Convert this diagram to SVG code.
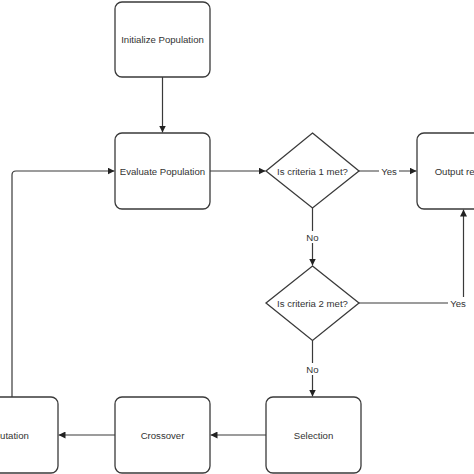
<svg xmlns="http://www.w3.org/2000/svg" width="474" height="474" viewBox="0 0 474 474">
<defs>
<style>
.box{fill:#fff;stroke:#3a3a3a;stroke-width:1.3}
.t{font-family:"Liberation Sans",Arial,sans-serif;font-size:9.6px;fill:#333;text-anchor:middle;dominant-baseline:central}
.c{fill:none;stroke:#3a3a3a;stroke-width:1.2}
.lbl{fill:#fff}
</style>
<marker id="ah" viewBox="0 0 10 10" refX="10" refY="5" markerWidth="7" markerHeight="7" markerUnits="userSpaceOnUse" orient="auto">
<path d="M0,0 L10,5 L0,10 z" fill="#222"/>
</marker>
</defs>
<rect width="474" height="474" fill="#fff"/>
<g id="connectors">
<path class="c" d="M162.5,77 V132.5" marker-end="url(#ah)"/>
<path class="c" d="M210,171 H265.5" marker-end="url(#ah)"/>
<path class="c" d="M359,171 H416.5" marker-end="url(#ah)"/>
<rect class="lbl" x="379" y="165" width="20" height="12"/>
<text class="t" x="389" y="171">Yes</text>
<path class="c" d="M312.5,208 V265.5" marker-end="url(#ah)"/>
<rect class="lbl" x="305" y="231" width="15" height="12"/>
<text class="t" x="312.5" y="237">No</text>
<path class="c" d="M359,303 H463.5 V209.5" marker-end="url(#ah)"/>
<rect class="lbl" x="448" y="297" width="20" height="12"/>
<text class="t" x="458" y="303">Yes</text>
<path class="c" d="M312.5,340.5 V396.5" marker-end="url(#ah)"/>
<rect class="lbl" x="305" y="363" width="15" height="12"/>
<text class="t" x="312.5" y="369">No</text>
<path class="c" d="M266,435 H210.5" marker-end="url(#ah)"/>
<path class="c" d="M115,435 H58.5" marker-end="url(#ah)"/>
<path class="c" d="M12,397 V175 Q12,171 16,171 H114.5" marker-end="url(#ah)"/>
</g>
<g id="init">
<rect class="box" x="115" y="2" width="95" height="75" rx="7"/>
<text class="t" x="162.5" y="39.5">Initialize Population</text>
</g>
<g id="evaluate">
<rect class="box" x="115" y="133" width="95" height="76" rx="7"/>
<text class="t" x="162.5" y="171">Evaluate Population</text>
</g>
<g id="criteria1">
<polygon class="box" points="312.5,133 359,171 312.5,208 266,171"/>
<text class="t" x="312.5" y="171">Is criteria 1 met?</text>
</g>
<g id="output">
<rect class="box" x="417" y="133" width="95" height="76" rx="7"/>
<text class="t" x="464.5" y="171">Output results</text>
</g>
<g id="criteria2">
<polygon class="box" points="312.5,266 359,303 312.5,340.5 266,303"/>
<text class="t" x="312.5" y="303">Is criteria 2 met?</text>
</g>
<g id="selection">
<rect class="box" x="266" y="397" width="95" height="76" rx="7"/>
<text class="t" x="313.5" y="435">Selection</text>
</g>
<g id="crossover">
<rect class="box" x="115" y="397" width="95" height="76" rx="7"/>
<text class="t" x="162.5" y="435">Crossover</text>
</g>
<g id="mutation">
<rect class="box" x="-37" y="397" width="95" height="76" rx="7"/>
<text class="t" x="10.5" y="435">Mutation</text>
</g>
</svg>
